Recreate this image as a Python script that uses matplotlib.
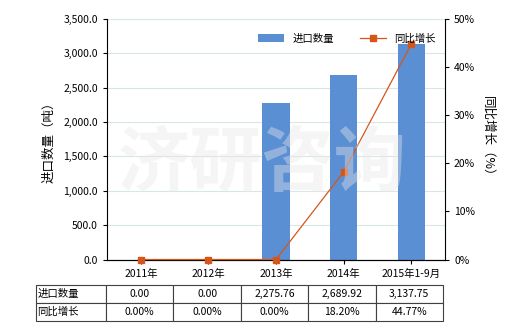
import matplotlib.pyplot as plt
import numpy as np
from matplotlib.ticker import FuncFormatter

plt.rcParams['font.family'] = ['Noto Sans CJK SC', 'DejaVu Sans']
plt.rcParams['font.size'] = 7.5

categories = ["2011年", "2012年", "2013年", "2014年", "2015年1-9月"]
import_qty = [0.00, 0.00, 2275.76, 2689.92, 3137.75]
yoy_growth = [0.00, 0.00, 0.00, 18.20, 44.77]
qty_labels = ["0.00", "0.00", "2,275.76", "2,689.92", "3,137.75"]
growth_labels = ["0.00%", "0.00%", "0.00%", "18.20%", "44.77%"]

bar_color = "#5b8fd4"
line_color = "#d4561a"

fig = plt.figure(figsize=(5.2, 3.3), dpi=100)
ax = fig.add_axes([0.2058, 0.2136, 0.65, 0.7288])
x = np.arange(len(categories))

ax.bar(x, import_qty, width=0.4, color=bar_color, label="进口数量", zorder=2)
ax.set_ylim(0, 3500)
ax.set_xlim(-0.5, len(categories) - 0.5)
ax.set_yticks(np.arange(0, 3501, 500))
ax.yaxis.set_major_formatter(FuncFormatter(lambda v, p: f"{v:,.1f}"))
ax.grid(axis='y', color="#d8e6e6", linewidth=0.8, zorder=0)
ax.set_xticks(x)
ax.set_xticklabels(categories)
ax.set_ylabel("进口数量（吨）", fontsize=9, labelpad=6)
for s in ["top", "right"]:
    ax.spines[s].set_visible(False)
ax.tick_params(axis='x', length=3)
ax.tick_params(axis='y', length=3)

ax2 = ax.twinx()
ax2.plot(x, yoy_growth, color=line_color, linewidth=0.9, marker='s', markersize=4,
         label="同比增长", zorder=3, clip_on=False)
ax2.set_ylim(0, 50)
ax2.set_yticks(np.arange(0, 51, 10))
ax2.yaxis.set_major_formatter(FuncFormatter(lambda v, p: f"{v:.0f}%"))
ax2.set_ylabel("同比增长（%）", fontsize=9, rotation=-90, labelpad=14)
ax2.spines["top"].set_visible(False)
ax2.spines["left"].set_visible(False)
ax2.tick_params(axis='y', length=3)

# watermark
fig.text(0.505, 0.50, "济研咨询", fontsize=52, color="#e8e8e8", alpha=0.4,
         ha='center', va='center', zorder=0, fontweight='bold')

h1, l1 = ax.get_legend_handles_labels()
h2, l2 = ax2.get_legend_handles_labels()
ax2.legend(h1 + h2, l1 + l2, loc='upper center', bbox_to_anchor=(0.71, 0.98),
           ncol=2, frameon=False, fontsize=7.5, handlelength=2.5, columnspacing=2.5)

# data table below
cell_text = [qty_labels, growth_labels]
row_labels = ["进口数量", "同比增长"]
table_rows = [[row_labels[i]] + cell_text[i] for i in range(2)]
first_w = 70 / 407
other_w = (1 - first_w) / 5
tbl = ax.table(cellText=table_rows, colWidths=[first_w] + [other_w] * 5,
               bbox=[-0.21, -0.2557, 1.204, 0.1497], cellLoc='center')
tbl.auto_set_font_size(False)
tbl.set_fontsize(7.5)
for (r, c), cell in tbl.get_celld().items():
    cell.set_edgecolor("#404040")
    cell.set_linewidth(0.8)
    if c == 0:
        cell._loc = 'left'
        cell.PAD = 0.02
        cell.get_text().set_horizontalalignment('left')

fig.savefig("out.png", dpi=100)
